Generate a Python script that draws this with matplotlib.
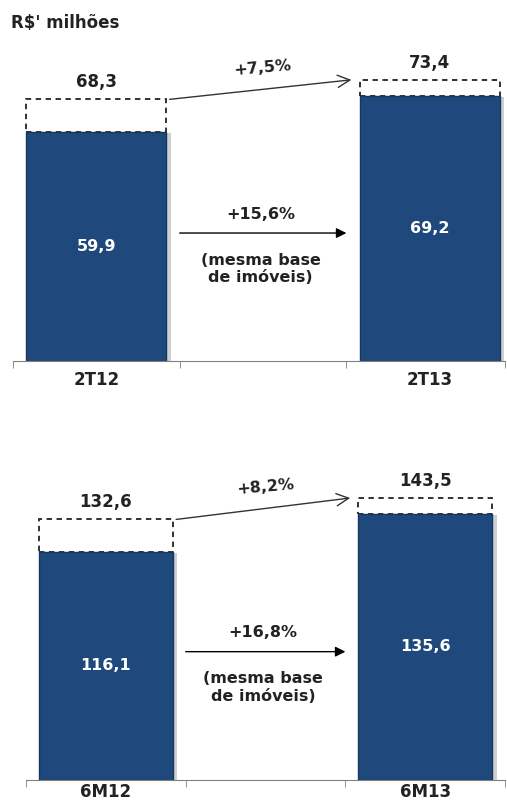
import matplotlib
matplotlib.use("Agg")
import matplotlib.pyplot as plt
import matplotlib.patheffects as pe

plt.rcParams['font.family'] = ['DejaVu Sans']
plt.rcParams['font.weight'] = 'bold'

# dados
cat_tri = ['2T12', '', '2T13']
base_tri = [59.9, None, 69.2]
total_tri = [68.3, None, 73.4]
var_total_tri = '+7,5%'
var_base_tri = '+15,6%'

cat_sem = ['6M12', '', '6M13']
base_sem = [116.1, None, 135.6]
total_sem = [132.6, None, 143.5]
var_total_sem = '+8,2%'
var_base_sem = '+16,8%'

AZUL = '#1F497D'
TXT = '#222222'


def painel(ax, cats, base, total, var_total, var_base, ymax, xmax, larg, pad):
    xs = [i for i, v in enumerate(base) if v is not None]
    b = [base[i] for i in xs]
    t = [total[i] for i in xs]
    # parte tracejada (diferença até o total)
    ax.bar(xs, [ti - bi for ti, bi in zip(t, b)], bottom=b, width=larg,
           facecolor='white', edgecolor='#222222',
           linestyle=(0, (3, 2.5)), linewidth=1.3, zorder=1)
    # barras azuis (mesma base)
    barras = ax.bar(xs, b, width=larg, color=AZUL, edgecolor='#17375E', linewidth=1.0, zorder=2)
    for r in barras:
        r.set_path_effects([pe.SimplePatchShadow(offset=(3, -1), alpha=0.2), pe.Normal()])
    for x, v in zip(xs, b):
        ax.text(x, v / 2, f'{v:.1f}'.replace('.', ','), color='white',
                ha='center', va='center', fontsize=11.5, zorder=3)
    for x, v in zip(xs, t):
        ax.annotate(f'{v:.1f}'.replace('.', ','), (x, v), xytext=(0, 8),
                    textcoords='offset pixels', ha='center', va='bottom',
                    fontsize=12, color=TXT)
    # seta inclinada
    x0 = xs[0] + larg / 2 + 0.02
    x1 = xs[1] - larg / 2 - 0.05
    ax.annotate('', xy=(x1, t[1]), xytext=(x0, t[0]),
                arrowprops=dict(arrowstyle='->', color='#333333', lw=1.0,
                                mutation_scale=22, shrinkA=0, shrinkB=0))
    ax.annotate(var_total, ((x0 + x1) / 2, (t[0] + t[1]) / 2), xytext=(2, 12),
                textcoords='offset pixels', ha='center', va='bottom',
                fontsize=11.5, rotation=5, color=TXT)
    # seta horizontal
    ym = 0.455 * t[1]
    ax.annotate('', xy=(x1 - 0.03, ym), xytext=(x0 + 0.06, ym),
                arrowprops=dict(arrowstyle='-|>', color='black', lw=1.0,
                                mutation_scale=15, shrinkA=0, shrinkB=0))
    xc = (x0 + x1) / 2
    ax.annotate(var_base, (xc, ym), xytext=(0, 19), textcoords='offset pixels',
                ha='center', va='center', fontsize=11.5, color=TXT)
    ax.annotate('(mesma base\nde imóveis)', (xc, ym), xytext=(0, -36),
                textcoords='offset pixels', ha='center', va='center',
                fontsize=11.5, linespacing=1.2, color=TXT)

    ax.set_xlim(-0.5, xmax)
    ax.set_ylim(0, ymax)
    for s in ['top', 'right', 'left']:
        ax.spines[s].set_visible(False)
    ax.spines['bottom'].set_color('#808080')
    ax.set_yticks([])
    ax.set_xticks([0, 1, 2])
    ax.set_xticklabels(cats, fontsize=12, color=TXT)
    ax.tick_params(axis='x', which='major', length=0, pad=pad)
    ax.set_xticks([-0.5, 0.5, 1.5, xmax], minor=True)
    ax.tick_params(axis='x', which='minor', length=5, color='#808080', direction='out')


fig = plt.figure(figsize=(5.07, 8.05), dpi=100)
ax1 = fig.add_axes([0.0256, 0.5516, 0.970, 0.374])
painel(ax1, cat_tri, base_tri, total_tri, var_total_tri, var_base_tri, 78.6, 2.45, 0.84, 7)
ax2 = fig.add_axes([0.0513, 0.0311, 0.945, 0.3727])
painel(ax2, cat_sem, base_sem, total_sem, var_total_sem, var_base_sem, 152.7, 2.5, 0.84, 2.5)

fig.text(0.022, 0.972, "R$' milhões", ha='left', va='center', fontsize=12, color=TXT)

fig.savefig('out.png', dpi=100)
